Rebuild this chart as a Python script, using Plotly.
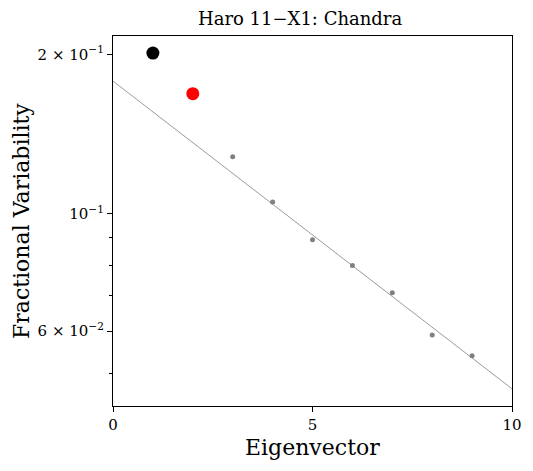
import numpy as np
import plotly.graph_objects as go

# -- data
eig_first = [1]
var_first = [0.2011]
eig_second = [2]
var_second = [0.1685]
eig_rest = [3, 4, 5, 6, 7, 8, 9]
var_rest = [0.1281, 0.1052, 0.0893, 0.0798, 0.0709, 0.0590, 0.0539]
fit_x = [0, 10]
fit_y = [0.1780, 0.0467]

y_tickvals = [0.06, 0.1, 0.2]
y_ticktext = ['6 × 10<sup>−2</sup>', '10<sup>−1</sup>', '2 × 10<sup>−1</sup>']
y_minorvals = [0.05, 0.07, 0.08, 0.09]
x_tickvals = [0, 5, 10]

font_serif = 'DejaVu Serif'

# -- page body has an 8px margin, so the figure is a bit smaller than the window
fig_w, fig_h = 525, 463

fig = go.Figure()

# fitted line
fig.add_trace(go.Scatter(x=fit_x, y=fit_y, mode='lines',
                         line=dict(color='#808080', width=0.8), showlegend=False))

# remaining eigenvectors
fig.add_trace(go.Scatter(x=eig_rest, y=var_rest, mode='markers',
                         marker=dict(color='#808080', size=5), showlegend=False))

# first two eigenvectors
fig.add_trace(go.Scatter(x=eig_second, y=var_second, mode='markers',
                         marker=dict(color='#ff0000', size=13), showlegend=False))
fig.add_trace(go.Scatter(x=eig_first, y=var_first, mode='markers',
                         marker=dict(color='#000000', size=13), showlegend=False))

fig.update_layout(width=fig_w, height=fig_h, autosize=False,
                  paper_bgcolor='white', plot_bgcolor='white',
                  margin=dict(l=105, r=21, t=28, b=65, pad=0),
                  font=dict(family=font_serif, color='black', size=15))

fig.update_xaxes(range=[0, 10], tickvals=x_tickvals, ticks='outside', ticklen=5,
                 tickwidth=1, tickcolor='black', showline=True, linecolor='black',
                 linewidth=1.3, mirror=True, showgrid=False, zeroline=False,
                 tickfont=dict(family=font_serif, size=15, color='black'))

fig.update_yaxes(type='log', range=[-1.3632, -0.6644], tickvals=y_tickvals,
                 ticktext=y_ticktext, ticks='outside', ticklen=5, tickwidth=1,
                 tickcolor='black', showline=True, linecolor='black', linewidth=1.3,
                 mirror=True, showgrid=False, zeroline=False,
                 minor=dict(tickvals=y_minorvals, ticks='outside', ticklen=3,
                            tickwidth=0.8, tickcolor='black', showgrid=False),
                 tickfont=dict(family=font_serif, size=15, color='black'))

# title and axis titles
fig.update_layout(annotations=[
    go.layout.Annotation(x=(292 - 105) / (fig_w - 105 - 21), y=1, xref='paper', yref='paper',
                         text='Haro 11−X1: Chandra', showarrow=False,
                         xanchor='center', yanchor='middle', yshift=18,
                         font=dict(family=font_serif, size=18, color='black')),
    go.layout.Annotation(x=0.5, y=0, xref='paper', yref='paper', text='Eigenvector',
                         showarrow=False, xanchor='center', yanchor='middle', yshift=-41,
                         font=dict(family=font_serif, size=22, color='black')),
    go.layout.Annotation(x=0, y=0.5, xref='paper', yref='paper',
                         text='Fractional Variability', textangle=-90,
                         showarrow=False, xanchor='center', yanchor='middle', xshift=-92,
                         font=dict(family=font_serif, size=22, color='black'))])

fig.write_html("out.html")
